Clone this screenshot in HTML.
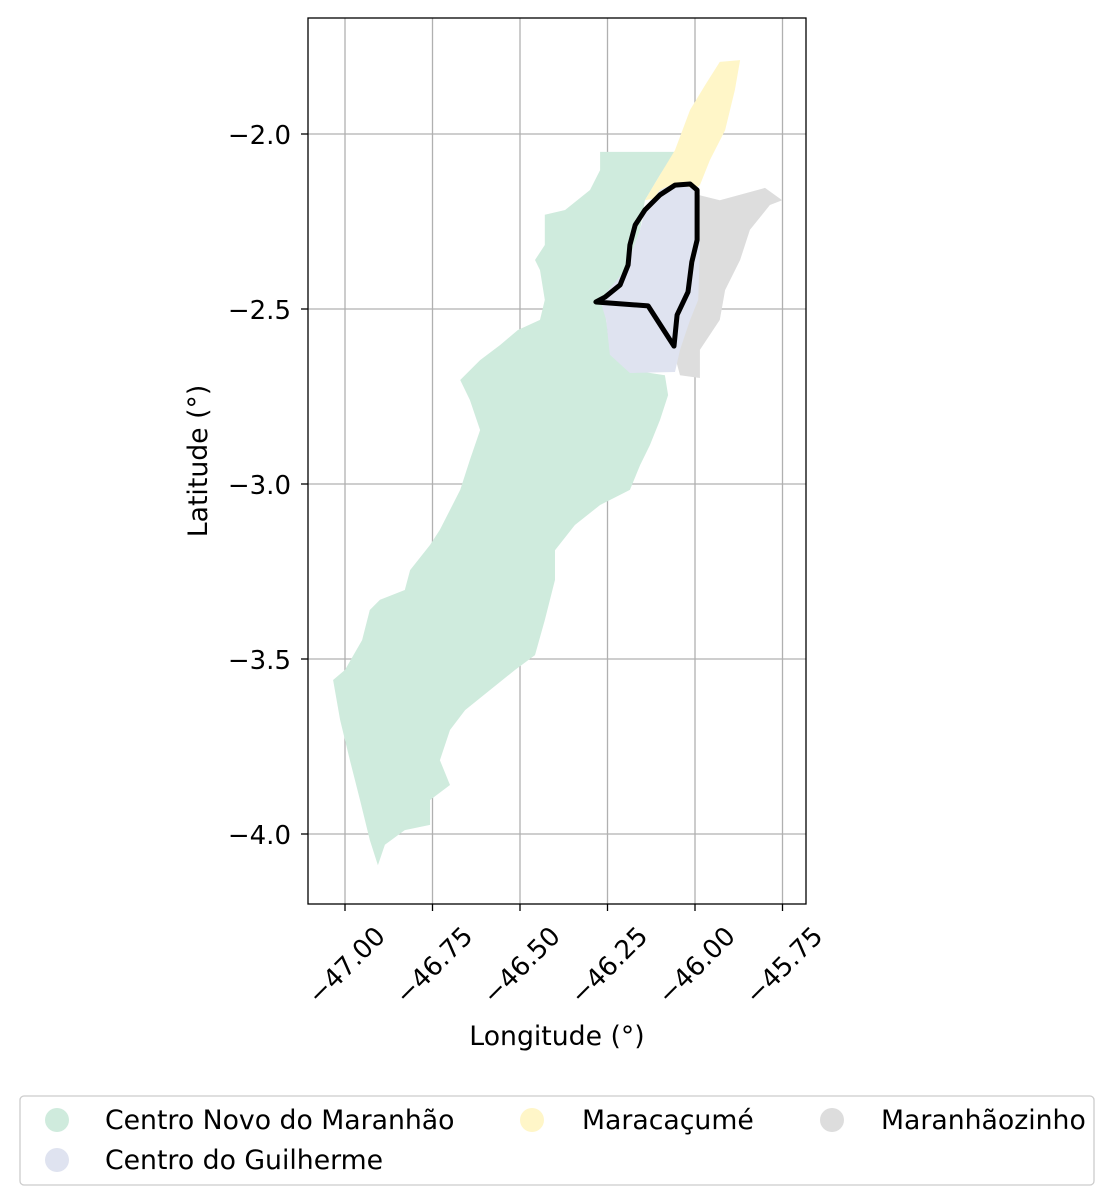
<!DOCTYPE html>
<html><head><meta charset="utf-8"><style>
body{margin:0;background:#fff;}
svg{display:block;font-family:"DejaVu Sans","Liberation Sans",sans-serif;}
</style></head><body>
<svg id="chart" width="1114" height="1204" viewBox="0 0 1114 1204">
<g id="grid"></g>
<g id="regions"></g>
<rect x="308" y="18" width="498" height="886" fill="none" stroke="#000" stroke-width="1.3"/>
<g id="ticks"></g>
<text x="557" y="1045" font-size="26.7" text-anchor="middle">Longitude (°)</text>
<text transform="translate(207,461) rotate(-90)" font-size="26.7" text-anchor="middle">Latitude (°)</text>
<g>
<rect x="20" y="1096" width="1074" height="89" rx="4" fill="#fff" stroke="#ccc" stroke-width="1.3"/>
<g><circle cx="57" cy="1120" r="12" fill="#cfebdd"/><text x="105" y="1129" font-size="26.7">Centro Novo do Maranhão</text></g>
<g><circle cx="57" cy="1160" r="12" fill="#dfe3f0"/><text x="105" y="1169" font-size="26.7">Centro do Guilherme</text></g>
<g><circle cx="532" cy="1120" r="12" fill="#fff6c8"/><text x="582" y="1129" font-size="26.7">Maracaçumé</text></g>
<g><circle cx="832" cy="1120" r="12" fill="#dddddd"/><text x="881" y="1129" font-size="26.7">Maranhãozinho</text></g>
</g>
</svg>
<script>
const xTicks=[-47.00,-46.75,-46.50,-46.25,-46.00,-45.75];
const yTicks=[-2.0,-2.5,-3.0,-3.5,-4.0];
const greenPoly=[[-46.271,-2.051],[-46.057,-2.051],[-46.100,-2.117],[-46.143,-2.189],[-46.157,-2.274],[-46.200,-2.389],[-46.243,-2.474],[-46.254,-2.531],[-46.243,-2.617],[-46.186,-2.674],[-46.086,-2.689],[-46.077,-2.746],[-46.100,-2.817],[-46.129,-2.889],[-46.157,-2.946],[-46.186,-3.017],[-46.271,-3.060],[-46.343,-3.117],[-46.400,-3.189],[-46.400,-3.274],[-46.429,-3.389],[-46.457,-3.489],[-46.514,-3.531],[-46.586,-3.589],[-46.657,-3.646],[-46.700,-3.703],[-46.729,-3.789],[-46.700,-3.860],[-46.757,-3.903],[-46.757,-3.974],[-46.829,-3.989],[-46.886,-4.031],[-46.906,-4.089],[-46.929,-4.017],[-46.957,-3.903],[-46.986,-3.789],[-47.014,-3.674],[-47.034,-3.560],[-47.000,-3.531],[-46.951,-3.446],[-46.929,-3.360],[-46.900,-3.331],[-46.829,-3.303],[-46.814,-3.246],[-46.757,-3.174],[-46.729,-3.131],[-46.671,-3.017],[-46.643,-2.931],[-46.614,-2.846],[-46.643,-2.760],[-46.671,-2.703],[-46.614,-2.646],[-46.557,-2.603],[-46.506,-2.560],[-46.443,-2.531],[-46.429,-2.474],[-46.443,-2.389],[-46.457,-2.360],[-46.429,-2.317],[-46.429,-2.231],[-46.371,-2.217],[-46.300,-2.160],[-46.271,-2.103]];
const yellowPoly=[[-46.143,-2.189],[-46.100,-2.117],[-46.057,-2.046],[-46.014,-1.931],[-45.971,-1.860],[-45.929,-1.794],[-45.871,-1.789],[-45.886,-1.874],[-45.914,-1.989],[-45.957,-2.074],[-45.986,-2.146],[-46.014,-2.166]];
const greyPoly=[[-45.991,-2.174],[-45.929,-2.189],[-45.800,-2.154],[-45.751,-2.189],[-45.786,-2.203],[-45.843,-2.274],[-45.871,-2.360],[-45.914,-2.446],[-45.929,-2.531],[-45.986,-2.617],[-45.986,-2.697],[-46.043,-2.689],[-46.066,-2.603],[-46.014,-2.474],[-45.991,-2.360]];
const lavenderPoly=[[-46.271,-2.474],[-46.200,-2.389],[-46.157,-2.274],[-46.143,-2.217],[-46.100,-2.160],[-46.057,-2.140],[-45.991,-2.160],[-45.986,-2.331],[-45.991,-2.474],[-46.014,-2.531],[-46.043,-2.617],[-46.057,-2.680],[-46.186,-2.683],[-46.243,-2.631],[-46.254,-2.531]];
const outlinePoly=[[-46.283,-2.480],[-46.134,-2.491],[-46.060,-2.606],[-46.051,-2.517],[-46.020,-2.451],[-46.009,-2.366],[-45.994,-2.303],[-45.994,-2.160],[-46.014,-2.143],[-46.057,-2.146],[-46.100,-2.174],[-46.143,-2.217],[-46.171,-2.260],[-46.186,-2.317],[-46.191,-2.374],[-46.214,-2.431],[-46.257,-2.466]];
const NS='http://www.w3.org/2000/svg';
function X(lon){return 345+(lon+47)*350;}
function Y(lat){return 134-(lat+2)*350;}
function mk(tag,attrs,parent){const e=document.createElementNS(NS,tag);for(const k in attrs)e.setAttribute(k,attrs[k]);parent.appendChild(e);return e;}
const grid=document.getElementById('grid'),ticks=document.getElementById('ticks'),reg=document.getElementById('regions');
xTicks.forEach(v=>{
  const l=mk('line',{x1:X(v),x2:X(v),y1:18,y2:904,stroke:'#b0b0b0','stroke-width':1.3},grid);
  
  
  mk('line',{x1:X(v),x2:X(v),y1:904,y2:911,stroke:'#000','stroke-width':1.3},ticks);
  const t=mk('text',{transform:`translate(${X(v)+2},${966}) rotate(-45)`,'font-size':26,'text-anchor':'middle','dominant-baseline':'central'},ticks);
  t.textContent='\u2212'+Math.abs(v).toFixed(2);
  
  
});
yTicks.forEach(v=>{
  const l=mk('line',{x1:308,x2:806,y1:Y(v),y2:Y(v),stroke:'#b0b0b0','stroke-width':1.3},grid);
  
  
  mk('line',{x1:301,x2:308,y1:Y(v),y2:Y(v),stroke:'#000','stroke-width':1.3},ticks);
  const t=mk('text',{x:291,y:Y(v)+10,'font-size':26,'text-anchor':'end'},ticks);
  t.textContent='\u2212'+Math.abs(v).toFixed(1);
  
  
});
function pts(p){return p.map(d=>X(d[0]).toFixed(1)+','+Y(d[1]).toFixed(1)).join(' ');}
const regions=[[greenPoly,'#cfebdd','region-centro-novo'],[yellowPoly,'#fff6c8','region-maracacume'],[greyPoly,'#dddddd','region-maranhaozinho'],[lavenderPoly,'#dfe3f0','region-centro-guilherme']];
regions.forEach(r=>{
  const p=mk('polygon',{points:pts(r[0]),fill:r[1]},reg);
  
  
});
const o=mk('polygon',{points:pts(outlinePoly),fill:'none',stroke:'#000','stroke-width':5,'stroke-linejoin':'round'},reg);


</script>
</body></html>
